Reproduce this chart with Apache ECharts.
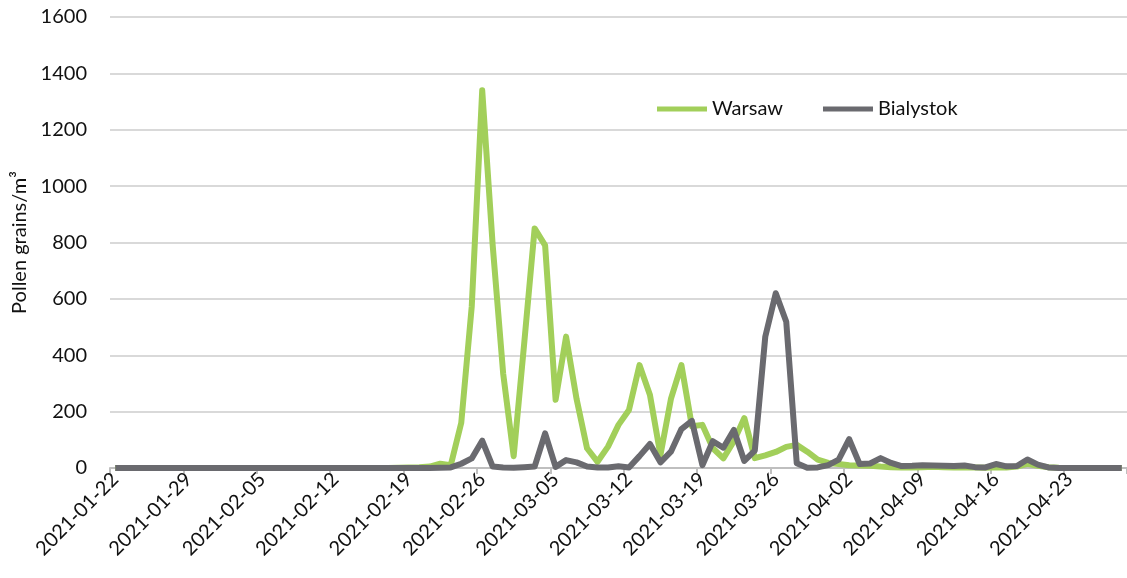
<!DOCTYPE html>
<html>
<head>
<meta charset="utf-8">
<script src="https://cdn.jsdelivr.net/npm/echarts@6/dist/echarts.min.js"></script>
<style>html,body{margin:0;padding:0;background:#fff}#chart{width:1127px;height:578px}</style>
</head>
<body>
<div id="chart"></div>
<script>
// daily dates 2021-01-22 .. 2021-04-28
const dates = [
  "2021-01-22","2021-01-23","2021-01-24","2021-01-25","2021-01-26","2021-01-27","2021-01-28","2021-01-29","2021-01-30","2021-01-31",
  "2021-02-01","2021-02-02","2021-02-03","2021-02-04","2021-02-05","2021-02-06","2021-02-07","2021-02-08","2021-02-09","2021-02-10",
  "2021-02-11","2021-02-12","2021-02-13","2021-02-14","2021-02-15","2021-02-16","2021-02-17","2021-02-18","2021-02-19","2021-02-20",
  "2021-02-21","2021-02-22","2021-02-23","2021-02-24","2021-02-25","2021-02-26","2021-02-27","2021-02-28",
  "2021-03-01","2021-03-02","2021-03-03","2021-03-04","2021-03-05","2021-03-06","2021-03-07","2021-03-08","2021-03-09","2021-03-10",
  "2021-03-11","2021-03-12","2021-03-13","2021-03-14","2021-03-15","2021-03-16","2021-03-17","2021-03-18","2021-03-19","2021-03-20",
  "2021-03-21","2021-03-22","2021-03-23","2021-03-24","2021-03-25","2021-03-26","2021-03-27","2021-03-28","2021-03-29","2021-03-30","2021-03-31",
  "2021-04-01","2021-04-02","2021-04-03","2021-04-04","2021-04-05","2021-04-06","2021-04-07","2021-04-08","2021-04-09","2021-04-10",
  "2021-04-11","2021-04-12","2021-04-13","2021-04-14","2021-04-15","2021-04-16","2021-04-17","2021-04-18","2021-04-19","2021-04-20",
  "2021-04-21","2021-04-22","2021-04-23","2021-04-24","2021-04-25","2021-04-26","2021-04-27","2021-04-28"
];
const warsaw = [
  0,0,0,0,0,0,0,0,0,0,
  0,0,0,0,0,0,0,0,0,0,
  0,0,0,0,0,0,0,1,2,3,
  5,15,10,160,572,1340,790,335,42,440,
  850,790,242,466,245,70,22,76,153,206,
  365,259,46,245,365,148,153,70,34,95,
  177,35,45,57,75,82,58,30,18,14,
  10,9,8,5,3,2,2,3,4,3,
  2,2,2,1,3,2,5,15,8,3,
  1,0,0,0,0,0,0
];
const bialystok = [
  0,0,0,0,0,0,0,0,0,0,
  0,0,0,0,0,0,0,0,0,0,
  0,0,0,0,0,0,0,0,0,0,
  0,1,2,15,34,97,5,2,1,3,
  5,123,4,28,20,5,2,2,6,2,
  42,85,20,58,138,167,10,95,72,135,
  25,62,466,620,519,17,1,2,10,30,
  102,14,16,35,18,7,8,10,9,8,
  7,9,3,2,14,6,7,30,12,2,
  0,0,0,0,0,0,0
];
const yTicks = { min: 0, max: 1600, interval: 200 };

const chart = echarts.init(document.getElementById("chart"));
const font = "Lato, 'Liberation Sans', sans-serif";
const txt = "#111";
chart.setOption({
  animation: false,
  textStyle: { fontFamily: font },
  grid: { left: 110, right: 0, top: 17, bottom: 110 },
  legend: {
    left: 652, top: 94, icon: "rect", itemWidth: 50, itemHeight: 5, itemGap: 40,
    textStyle: { fontSize: 20, color: txt, fontFamily: font },
    data: ["Warsaw", "Bialystok"]
  },
  xAxis: {
    type: "category", data: dates, boundaryGap: true,
    axisLine: { lineStyle: { color: "#bfbfbf", width: 2 } },
    axisTick: { show: true, length: 6, lineStyle: { color: "#bfbfbf", width: 2 } },
    axisLabel: { interval: 6, rotate: 45, fontSize: 20, color: txt, margin: 8, fontFamily: font }
  },
  yAxis: {
    type: "value", min: yTicks.min, max: yTicks.max, interval: yTicks.interval,
    name: "Pollen grains/m³", nameLocation: "middle", nameRotate: 90, nameGap: 78,
    nameTextStyle: { fontSize: 20, color: txt, fontFamily: font },
    axisLine: { show: false }, axisTick: { show: false },
    axisLabel: { fontSize: 20, color: txt, margin: 23, fontFamily: font, formatter: (v) => String(v) },
    splitLine: { lineStyle: { color: "#d9d9d9", width: 2 } }
  },
  series: [
    { name: "Warsaw", type: "line", data: warsaw, symbol: "none", smooth: false,
      lineStyle: { color: "#a2cf5a", width: 6, join: "round" }, itemStyle: { color: "#a2cf5a" } },
    { name: "Bialystok", type: "line", data: bialystok, symbol: "none", smooth: false,
      lineStyle: { color: "#6a6a6f", width: 6, join: "round" }, itemStyle: { color: "#6a6a6f" } }
  ]
});
window.addEventListener("resize", () => chart.resize());
</script>
</body>
</html>
